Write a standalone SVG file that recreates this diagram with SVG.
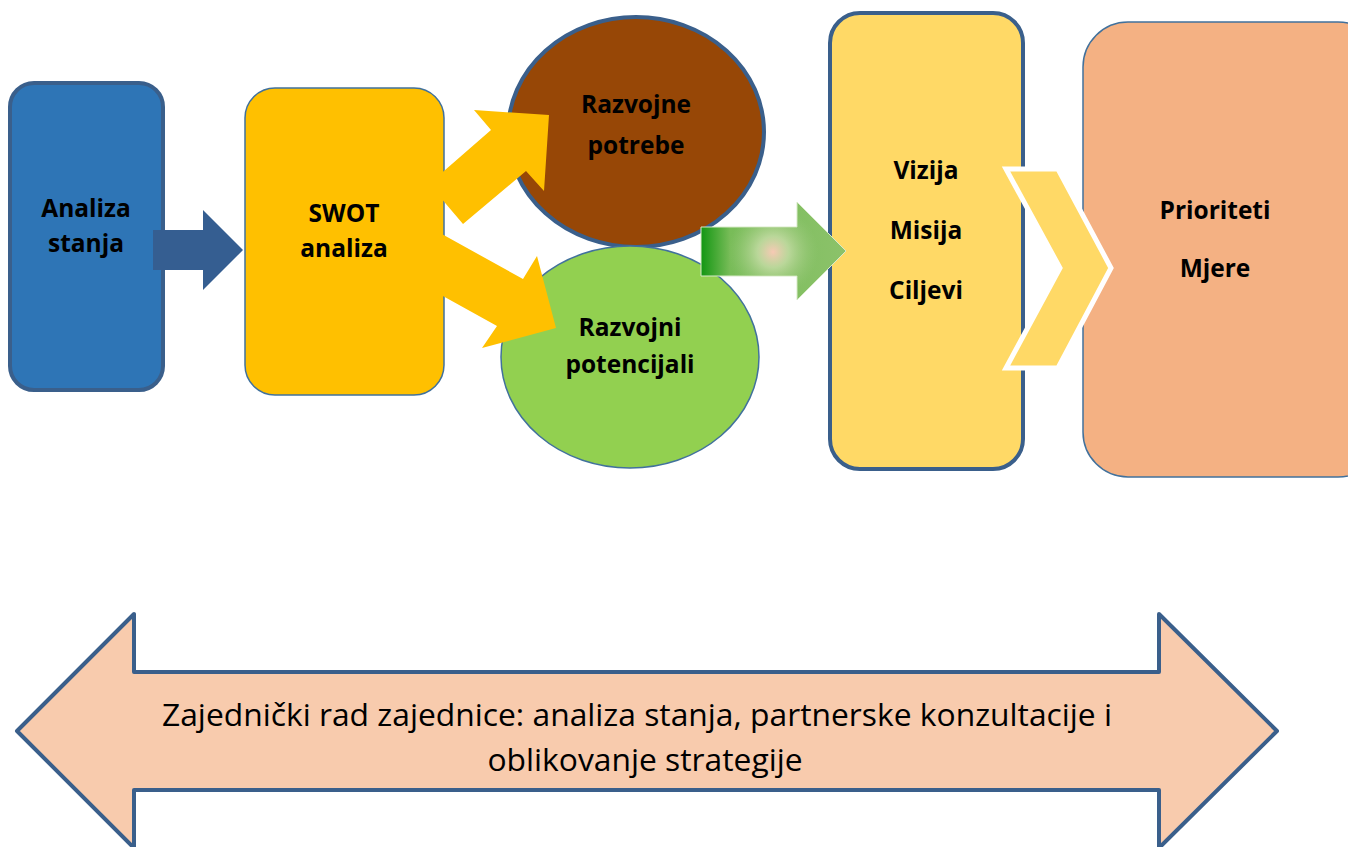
<svg xmlns="http://www.w3.org/2000/svg" width="1348" height="847" viewBox="0 0 1348 847">
<style>
.t{font-family:"Open Sans","Liberation Sans",sans-serif;font-weight:700;font-size:24.5px;fill:#000;text-anchor:middle}
.b{font-family:"Open Sans","Liberation Sans",sans-serif;font-size:31.8px;fill:#000;text-anchor:middle}
.thick{stroke:#3A5F8B;stroke-width:4}
.thin{stroke:#41719C;stroke-width:1.5}
</style>
<defs>
<linearGradient id="gl" x1="0" y1="0" x2="1" y2="0">
<stop offset="0" stop-color="#129612"/>
<stop offset="0.2" stop-color="#78BC58"/>
<stop offset="1" stop-color="#8CC26A"/>
</linearGradient>
<radialGradient id="gr" cx="773" cy="252" r="45" gradientUnits="userSpaceOnUse">
<stop offset="0" stop-color="#F7C9B4"/>
<stop offset="0.35" stop-color="#C8DDA8" stop-opacity="0.8"/>
<stop offset="1" stop-color="#9CCB7E" stop-opacity="0"/>
</radialGradient>
</defs>
<g id="analiza-stanja">
<rect x="10" y="83" width="153" height="307" rx="24" fill="#2E75B6" class="thick"/>
<text class="t" x="86" y="217">Analiza</text>
<text class="t" x="86" y="252">stanja</text>
</g>
<g id="swot">
<rect x="245" y="88" width="199" height="307" rx="30" fill="#FFC000" class="thin"/>
<text class="t" x="344" y="222">SWOT</text>
<text class="t" x="344" y="257">analiza</text>
</g>
<g id="razvojne-potrebe">
<ellipse cx="636" cy="132" rx="128" ry="115" fill="#974706" class="thick" stroke-width="3"/>
<text class="t" x="636" y="113">Razvojne</text>
<text class="t" x="636" y="154">potrebe</text>
</g>
<g id="razvojni-potencijali">
<ellipse cx="630" cy="357" rx="129" ry="111" fill="#92D050" class="thin"/>
<text class="t" x="630" y="336">Razvojni</text>
<text class="t" x="630" y="373">potencijali</text>
</g>
<g id="vizija">
<rect x="830" y="13" width="193" height="456" rx="30" fill="#FFD966" class="thick"/>
<text class="t" x="926" y="179">Vizija</text>
<text class="t" x="926" y="239">Misija</text>
<text class="t" x="926" y="299">Ciljevi</text>
</g>
<g id="prioriteti">
<rect x="1083" y="22" width="300" height="455" rx="45" fill="#F4B183" class="thin"/>
<text class="t" x="1215" y="219">Prioriteti</text>
<text class="t" x="1215" y="277">Mjere</text>
</g>
<g id="connectors">
<polygon points="153,230 203,230 203,210 243,250 203,290 203,270 153,270" fill="#355E91"/>
<polygon points="429,184 491,130 474,110 549,115 544,191 526,171 463,224" fill="#FFC000"/>
<polygon points="431,228 523,279 537,256 556,328 482,348 497,326 405,275" fill="#FFC000"/>
<g>
<polygon points="701,227 797,227 797,202 846,251 797,300 797,276 701,276" fill="url(#gl)" stroke="#D8EAC8" stroke-width="1"/>
<polygon points="701,227 797,227 797,202 846,251 797,300 797,276 701,276" fill="url(#gr)"/>
</g>
<polygon points="1006,169 1058,169 1111,268 1058,368 1006,368 1060,268" fill="#FFD966" stroke="#FFFFFF" stroke-width="5" stroke-linejoin="miter"/>
</g>
<g id="zajednicki-rad">
<polygon points="17,731 134,614 134,672 1159,672 1159,614 1277,731 1159,848 1159,790 134,790 134,848" fill="#F8CBAD" stroke="#3A5F8B" stroke-width="4" stroke-linejoin="round"/>
<text class="b" x="637" y="726">Zajednički rad zajednice: analiza stanja, partnerske konzultacije i</text>
<text class="b" x="645" y="771">oblikovanje strategije</text>
</g>
</svg>
